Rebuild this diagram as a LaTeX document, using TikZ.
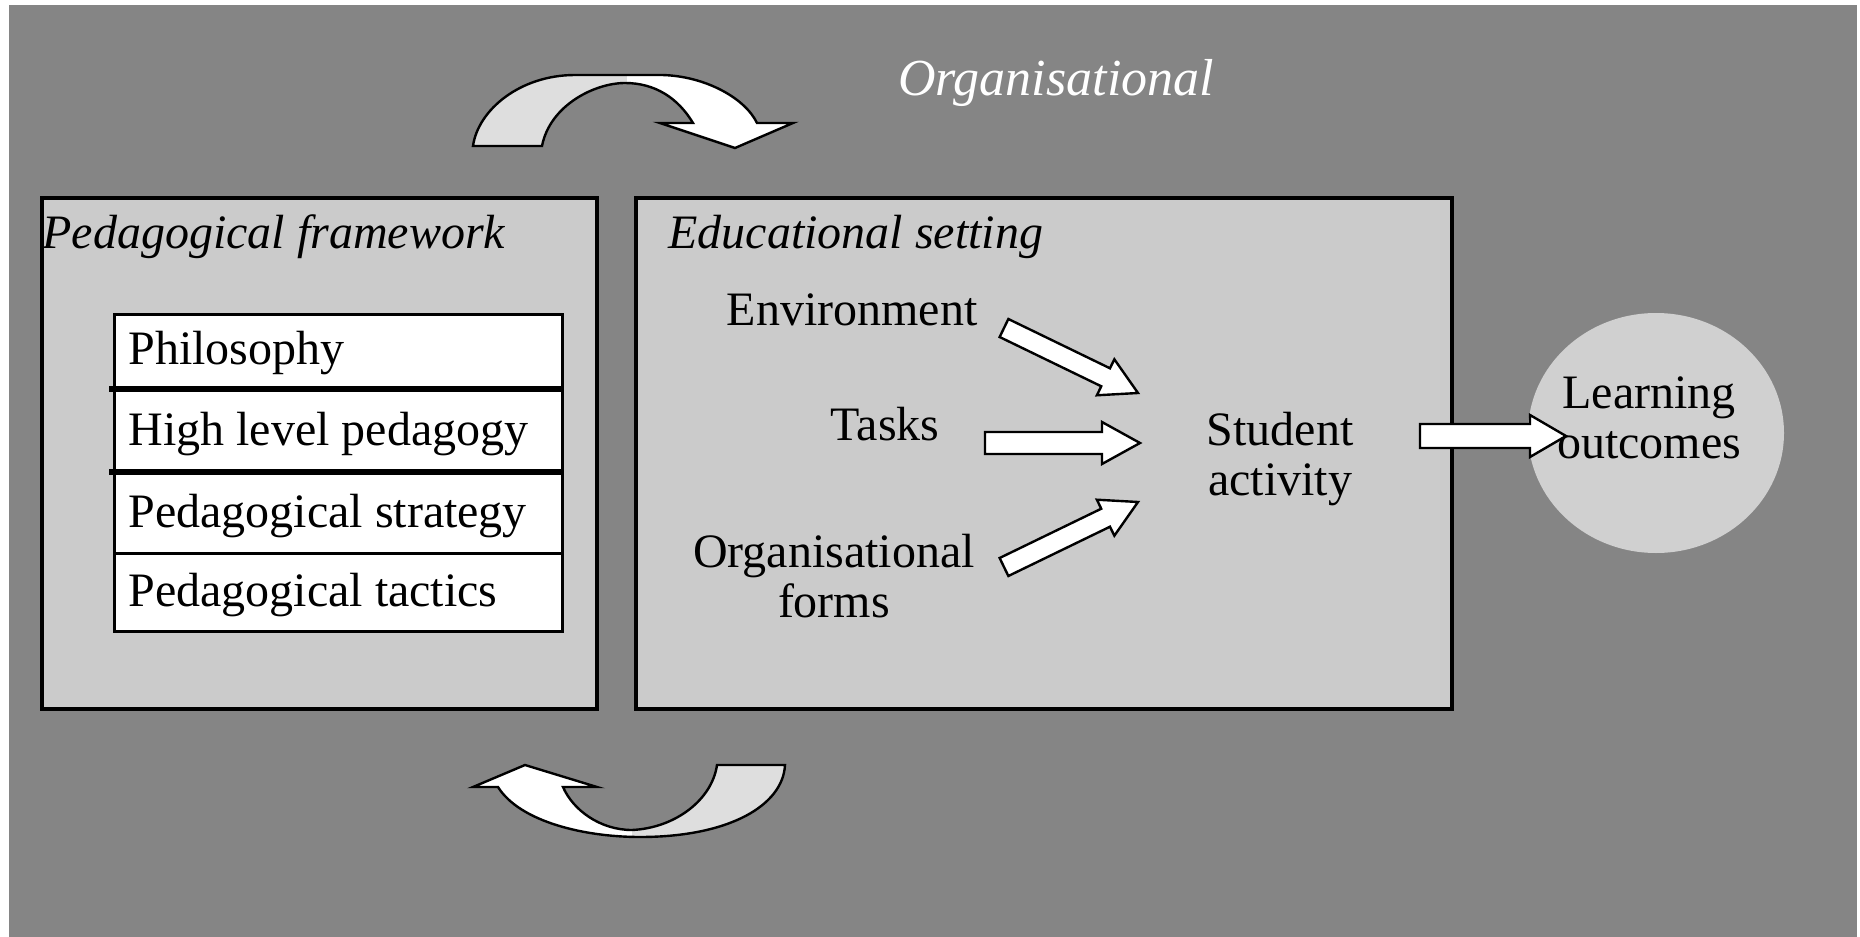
\documentclass[tikz,border=0pt]{standalone}
\usepackage{fontspec}
\setmainfont{Liberation Serif}
\usetikzlibrary{calc,shapes.geometric}
\definecolor{bggrey}{HTML}{858585}
\definecolor{boxgrey}{HTML}{CBCBCB}
\definecolor{ellgrey}{HTML}{D0D0D0}
\definecolor{arrgrey}{HTML}{DEDEDE}
\tikzset{
  panel/.style={draw=black, line width=1.8pt, fill=boxgrey},
  listbox/.style={draw=black, line width=1.5pt, fill=white},
  thinsep/.style={draw=black, line width=1.5pt},
  thicksep/.style={draw=black, line width=3pt},
  rowtxt/.style={anchor=base west, inner sep=0pt, font=\fontsize{24}{25}\selectfont},
  titletxt/.style={anchor=base west, inner sep=0pt, font=\fontsize{24}{25}\selectfont\itshape},
  lbl/.style={anchor=base, inner sep=0pt, align=center, font=\fontsize{24}{25}\selectfont},
  blk/.style={draw=black, line width=1.2pt, fill=white, line join=miter},
  curvout/.style={draw=black, line width=1.2pt, line join=miter}
}
\newcommand{\blockarr}[5]{%
  \path ($(#2)!#5!(#1)$) coordinate (tmpH);
  \draw[blk] ($(#1)!#3!90:(#2)$) -- ($(tmpH)!#3!90:(#2)$) -- ($(tmpH)!#4!90:(#2)$) -- (#2)
     -- ($(tmpH)!#4!-90:(#2)$) -- ($(tmpH)!#3!-90:(#2)$) -- ($(#1)!#3!-90:(#2)$) -- cycle;}
\begin{document}
\begin{tikzpicture}[x=0.5pt,y=-0.5pt]
\useasboundingbox (0,0) rectangle (1860,937);
\fill[white] (0,0) rectangle (1860,937);
\fill[bggrey] (9,5) rectangle (1857,937);

% top label
\node[anchor=base, inner sep=0pt, text=white, font=\fontsize{26}{28}\selectfont\itshape] (org) at (1056,95) {Organisational};

% top curved arrow
\path[save path=\toparrpath] (473,146) .. controls (478,110) and (520,75) .. (575,75) -- (662,75)
  .. controls (705,76) and (745,98) .. (757,123) -- (793,123) -- (735,148) -- (660,123) -- (693,123)
  .. controls (678,98) and (655,83) .. (625,83) .. controls (595,83) and (550,105) .. (542,146) -- cycle;
\fill[arrgrey, use path=\toparrpath];
\begin{scope}
  \clip (627,0) rectangle (900,200);
  \fill[white, use path=\toparrpath];
\end{scope}
\path[curvout, use path=\toparrpath];

% bottom curved arrow
\path[save path=\botarrpath] (717,765) -- (785,765) .. controls (783,805) and (730,837) .. (640,837)
  .. controls (585,837) and (520,822) .. (498,787) -- (473,787) -- (525,765) -- (597,787) -- (563,787)
  .. controls (573,810) and (600,830) .. (632,830) .. controls (675,828) and (712,800) .. (717,765) -- cycle;
\fill[white, use path=\botarrpath];
\begin{scope}
  \clip (632,700) rectangle (900,900);
  \fill[arrgrey, use path=\botarrpath];
\end{scope}
\path[curvout, use path=\botarrpath];

% left panel
\draw[panel] (42,198) rectangle (597,709);
\node[titletxt] (pft) at (42,248) {Pedagogical framework};
\draw[listbox] (114,314) rectangle (562,631);
\draw[thicksep] (109,389) -- (562,389);
\draw[thicksep] (109,472) -- (562,472);
\draw[thinsep] (114,553) -- (562,553);
\node[rowtxt] (r1) at (128,364) {Philosophy};
\node[rowtxt] (r2) at (128,445) {High level pedagogy};
\node[rowtxt] (r3) at (128,527) {Pedagogical strategy};
\node[rowtxt] (r4) at (128,606) {Pedagogical tactics};

% right panel
\draw[panel] (636,198) rectangle (1452,709);
\node[titletxt] (est) at (668,248) {Educational setting};
\node[lbl] (env) at (852,325) {Environment};
\node[lbl] (tasks) at (885,440) {Tasks};
\node[lbl] (orgf) at (834,617) {Organisational\\forms};
\node[lbl] (sa) at (1280,495) {Student\\activity};

% learning outcomes
\node[ellipse, fill=ellgrey, minimum width=128pt, minimum height=120pt, inner sep=0pt] (loell) at (1656,433) {};

% block arrows
\coordinate (envA) at (1004,328);
\coordinate (envB) at (1138,393);
\coordinate (tasA) at (985,443);
\coordinate (tasB) at (1140,443);
\coordinate (orgA) at (1004,567);
\coordinate (orgB) at (1138,502);
\coordinate (outA) at (1420,436);
\coordinate (outB) at (1566,436);
\blockarr{envA}{envB}{5pt}{10pt}{18pt}
\blockarr{tasA}{tasB}{5.5pt}{10.5pt}{19pt}
\blockarr{orgA}{orgB}{5pt}{10pt}{18pt}
\blockarr{outA}{outB}{6pt}{10.5pt}{18pt}

\node[lbl] (lo) at (1649,458) {Learning\\outcomes};
\end{tikzpicture}
\end{document}
